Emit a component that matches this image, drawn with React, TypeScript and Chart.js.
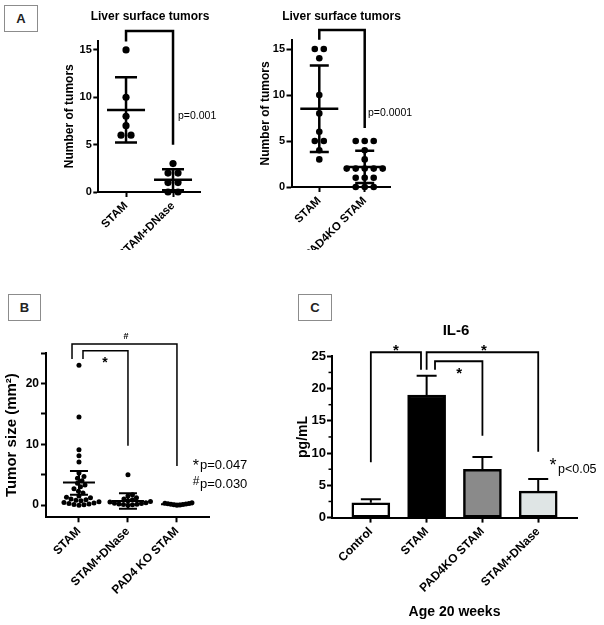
import React, { useEffect, useRef } from "react";
import { Chart, registerables } from "chart.js";
Chart.register(...registerables);

const FONT = "'Liberation Sans', Arial, Helvetica, sans-serif";

// ---------- Panel A (left): liver surface tumors ----------
const a1Categories = ["STAM", "STAM+DNase"];
const a1Stam = [15, 10, 8, 7, 6, 6];
const a1Dnase = [3, 2, 2, 1, 1, 0, 0];

// ---------- Panel A (right): liver surface tumors ----------
const a2Categories = ["STAM", "PAD4KO STAM"];
const a2Stam = [15, 15, 14, 10, 8, 6, 5, 5, 4, 3];
const a2Pad4ko = [5, 5, 5, 4, 3, 2, 2, 2, 2, 2, 1, 1, 1, 0, 0, 0];

const aTicks = [0, 5, 10, 15];
const aTickLabels = ["0", "5", "10", "15"];

// ---------- Panel B: tumor size ----------
const bCategories = ["STAM", "STAM+DNase", "PAD4 KO STAM"];
const bStam = [23.0, 14.5, 9.1, 8.1, 7.1, 5.3, 4.7, 4.4, 4.0, 3.6, 3.3, 3.0, 2.7, 2.3, 2.0, 1.5, 1.3, 1.2, 1.0, 0.9, 0.8, 0.7, 0.55, 0.45, 0.35, 0.25, 0.2, 0.1, 0.05, 0.0];
const bDnase = [5.0, 1.7, 1.5, 1.2, 1.0, 0.9, 0.7, 0.6, 0.5, 0.4, 0.3, 0.25, 0.2, 0.15, 0.1, 0.05, 0.0];
const bPad4ko = [0.0, 0.03, 0.06, 0.1, 0.14, 0.18, 0.22, 0.27, 0.32, 0.38];
const bMean = [3.7, 0.68, 0.15];
const bLower = [1.7, -0.6, 0.08];
const bUpper = [5.6, 1.95, 0.22];
const bTicks = [0, 5, 10, 15, 20, 25];
const bTickLabels = ["0", "", "10", "", "20", ""];

// ---------- Panel C: IL-6 ----------
const cCategories = ["Control", "STAM", "PAD4KO STAM", "STAM+DNase"];
const cValues = [2.3, 19.0, 7.5, 4.1];
const cErrorTop = [2.85, 22.0, 9.4, 6.0];
const cColors = ["#ffffff", "#000000", "#8a8a8a", "#dfe5e5"];
const cTicks = [0, 5, 10, 15, 20, 25];
const cTickLabels = ["0", "5", "10", "15", "20", "25"];
const cMinorTicks = [2.5, 7.5, 12.5, 17.5, 22.5];

// ---------- helpers ----------
type Geo = {
  box: { left: number; top: number; width: number; height: number };
  area: { l: number; t: number; r: number; b: number };
  x: [number, number];
  y: [number, number];
};

const mean = (v: number[]) => v.reduce((s, a) => s + a, 0) / v.length;
const sd = (v: number[]) => {
  const m = mean(v);
  return Math.sqrt(v.reduce((s, a) => s + (a - m) * (a - m), 0) / (v.length - 1));
};

function rowOffsets(vals: number[], spacing: number): number[] {
  const counts = new Map<number, number>();
  vals.forEach((v) => counts.set(v, (counts.get(v) || 0) + 1));
  const seen = new Map<number, number>();
  return vals.map((v) => {
    const k = counts.get(v)!;
    const i = seen.get(v) || 0;
    seen.set(v, i + 1);
    return (i - (k - 1) / 2) * spacing;
  });
}

function swarmOffsets(vals: number[], pxPerY: number, minDist: number): number[] {
  const idx = vals.map((_, i) => i).sort((a, b) => vals[a] - vals[b]);
  const placed: { x: number; y: number }[] = [];
  const out = new Array(vals.length).fill(0);
  for (const i of idx) {
    const y = vals[i] * pxPerY;
    let best = 0;
    for (let k = 0; k < 400; k++) {
      const cand = (k % 2 === 1 ? 1 : -1) * Math.ceil(k / 2) * 0.5;
      if (placed.every((p) => (p.x - cand) ** 2 + (p.y - y) ** 2 >= minDist * minDist)) {
        best = cand;
        break;
      }
    }
    placed.push({ x: best, y });
    out[i] = best;
  }
  return out;
}

const pxPerX = (g: Geo) => (g.area.r - g.area.l) / (g.x[1] - g.x[0]);
const pxPerY = (g: Geo) => (g.area.b - g.area.t) / (g.y[1] - g.y[0]);

function scatterPoints(vals: number[], group: number, offsetsPx: number[], g: Geo) {
  const k = pxPerX(g);
  return vals.map((v, i) => ({ x: group + offsetsPx[i] / k, y: v }));
}

type TextItem = { x: number; y: number; text: string; size: number; weight?: string; align?: CanvasTextAlign; star?: boolean };
type Bracket = { x1: number; x2: number; top: number; y1: number; y2: number };

function annotationPlugin(id: string, brackets: Bracket[], lw: number, texts: TextItem[]) {
  return {
    id,
    afterDraw(chart: any) {
      const { ctx } = chart;
      const xs = chart.scales.x;
      const ys = chart.scales.y;
      ctx.save();
      ctx.strokeStyle = "#000";
      ctx.lineWidth = lw;
      ctx.lineJoin = "miter";
      ctx.lineCap = "butt";
      brackets.forEach((b) => {
        ctx.beginPath();
        ctx.moveTo(xs.getPixelForValue(b.x1), ys.getPixelForValue(b.y1));
        ctx.lineTo(xs.getPixelForValue(b.x1), ys.getPixelForValue(b.top));
        ctx.lineTo(xs.getPixelForValue(b.x2), ys.getPixelForValue(b.top));
        ctx.lineTo(xs.getPixelForValue(b.x2), ys.getPixelForValue(b.y2));
        ctx.stroke();
      });
      ctx.fillStyle = "#000";
      ctx.textBaseline = "middle";
      texts.forEach((t) => {
        ctx.font = `${t.weight || "normal"} ${t.size}px ${FONT}`;
        ctx.textAlign = t.align || "center";
        const dy = t.star ? 0.23 * t.size : 0;
        ctx.fillText(t.text, xs.getPixelForValue(t.x), ys.getPixelForValue(t.y) + dy);
      });
      ctx.restore();
    },
  };
}

function meanSdPlugin(id: string, means: number[], lows: number[], highs: number[], meanHalf: number, capHalf: number, lw: number) {
  return {
    id,
    afterDatasetsDraw(chart: any) {
      const { ctx } = chart;
      const xs = chart.scales.x;
      const ys = chart.scales.y;
      ctx.save();
      ctx.strokeStyle = "#000";
      ctx.lineWidth = lw;
      ctx.lineCap = "butt";
      means.forEach((m, i) => {
        const px = xs.getPixelForValue(i + 1);
        const pm = ys.getPixelForValue(m);
        const pl = ys.getPixelForValue(lows[i]);
        const ph = ys.getPixelForValue(highs[i]);
        ctx.beginPath();
        ctx.moveTo(px, pl);
        ctx.lineTo(px, ph);
        ctx.moveTo(px - meanHalf, pm);
        ctx.lineTo(px + meanHalf, pm);
        ctx.moveTo(px - capHalf, pl);
        ctx.lineTo(px + capHalf, pl);
        ctx.moveTo(px - capHalf, ph);
        ctx.lineTo(px + capHalf, ph);
        ctx.stroke();
      });
      ctx.restore();
    },
  };
}

type ScaleOpts = {
  xTicks: number[];
  xLabels: string[];
  xFont: number;
  yTicks: number[];
  yLabels: string[];
  yFont: number;
  yPad: number;
  yTitle: string;
  yTitleSize: number;
  yTitleX: number;
  xTitle?: string;
  xTitleSize?: number;
  xTitleY?: number;
};

function baseOptions(g: Geo, o: ScaleOpts) {
  const xHeight = g.box.top + g.box.height - g.area.b;
  const yWidth = g.area.l - g.box.left;
  const grid = { drawOnChartArea: false, drawTicks: true, tickLength: 5, tickWidth: 2, tickColor: "#000", color: "#000", offset: false };
  const border = { display: true, color: "#000", width: 2 };
  const yLH = o.yTitleSize * 1.2;
  const xLH = (o.xTitleSize || 12) * 1.2;
  return {
    responsive: false,
    animation: false,
    devicePixelRatio: 1,
    layout: {
      autoPadding: false,
      padding: { left: 0, top: g.area.t - g.box.top, right: g.box.left + g.box.width - g.area.r, bottom: 0 },
    },
    plugins: { legend: { display: false }, tooltip: { enabled: false }, title: { display: false } },
    scales: {
      x: {
        type: "linear",
        offset: false,
        min: g.x[0],
        max: g.x[1],
        afterFit: (s: any) => {
          s.height = xHeight;
        },
        afterBuildTicks: (s: any) => {
          s.ticks = o.xTicks.map((v) => ({ value: v }));
        },
        ticks: {
          autoSkip: false,
          minRotation: 45,
          maxRotation: 45,
          padding: 2,
          color: "#000",
          font: { family: FONT, size: o.xFont, weight: "bold" },
          callback: (_v: any, i: number) => o.xLabels[i],
        },
        grid,
        border,
        title: o.xTitle
          ? {
              display: true,
              text: o.xTitle,
              color: "#000",
              font: { family: FONT, size: o.xTitleSize, weight: "bold" },
              padding: { top: 0, bottom: g.box.height - (o.xTitleY! - g.box.top) - xLH / 2 },
            }
          : { display: false },
      },
      y: {
        type: "linear",
        offset: false,
        min: g.y[0],
        max: g.y[1],
        afterFit: (s: any) => {
          s.width = yWidth;
        },
        afterBuildTicks: (s: any) => {
          s.ticks = o.yTicks.map((v) => ({ value: v }));
        },
        ticks: {
          padding: o.yPad,
          color: "#000",
          font: { family: FONT, size: o.yFont, weight: "bold" },
          callback: (_v: any, i: number) => o.yLabels[i],
        },
        grid,
        border,
        title: {
          display: true,
          text: o.yTitle,
          color: "#000",
          font: { family: FONT, size: o.yTitleSize, weight: "bold" },
          padding: { top: o.yTitleX - g.box.left - yLH / 2, bottom: 0 },
        },
      },
    },
  };
}

// ---------- geometry ----------
const geoA1: Geo = { box: { left: 40, top: 0, width: 215, height: 250 }, area: { l: 98.3, t: 40.5, r: 200, b: 192 }, x: [0.41, 2.574], y: [0, 16] };
const geoA2: Geo = { box: { left: 232, top: 0, width: 200, height: 250 }, area: { l: 291.5, t: 39.8, r: 390, b: 187 }, x: [0.388, 2.557], y: [0, 16] };
const geoB: Geo = { box: { left: 0, top: 325, width: 280, height: 300 }, area: { l: 46, t: 353, r: 209, b: 517.3 }, x: [0.327, 3.654], y: [-2, 25] };
const geoC: Geo = { box: { left: 290, top: 325, width: 314, height: 300 }, area: { l: 332, t: 356.3, r: 577, b: 517.6 }, x: [0.304, 4.695], y: [0, 25] };

// ---------- configs ----------
function configA(g: Geo, cats: string[], g1: number[], g2: number[], spacing: number, radius: number, meanHalf: number, capHalf: number, texts: TextItem[], bracket: Bracket, yTitleX: number, id: string) {
  const opts: any = baseOptions(g, {
    xTicks: [1, 2], xLabels: cats, xFont: 11.5,
    yTicks: aTicks, yLabels: aTickLabels, yFont: 11, yPad: 1.5,
    yTitle: "Number of tumors", yTitleSize: 12, yTitleX,
  });
  const groups = [g1, g2];
  return {
    type: "scatter",
    data: {
      datasets: groups.map((vals, gi) => ({
        data: scatterPoints(vals, gi + 1, rowOffsets(vals, spacing), g),
        pointRadius: radius,
        pointBackgroundColor: "#000",
        pointBorderWidth: 0,
        clip: false,
      })),
    },
    options: opts,
    plugins: [
      meanSdPlugin(id + "sd", groups.map(mean), groups.map((v) => mean(v) - sd(v)), groups.map((v) => mean(v) + sd(v)), meanHalf, capHalf, 2.5),
      annotationPlugin(id + "ann", [bracket], 2.5, texts),
    ],
  };
}

function configB() {
  const g = geoB;
  const opts: any = baseOptions(g, {
    xTicks: [1, 2, 3], xLabels: bCategories, xFont: 12,
    yTicks: bTicks, yLabels: bTickLabels, yFont: 12, yPad: 2,
    yTitle: "Tumor size (mm²)", yTitleSize: 15, yTitleX: 12,
  });
  const groups = [bStam, bDnase, bPad4ko];
  const gaps = [4.7, 4.2, 3.0];
  const ky = pxPerY(g);
  return {
    type: "scatter",
    data: {
      datasets: groups.map((vals, gi) => ({
        data: scatterPoints(vals, gi + 1, swarmOffsets(vals, ky, gaps[gi]), g),
        pointRadius: 2.5,
        pointBackgroundColor: "#000",
        pointBorderWidth: 0,
        clip: false,
      })),
    },
    options: opts,
    plugins: [
      meanSdPlugin("bsd", bMean, bLower, bUpper, 16, 9, 2),
      annotationPlugin(
        "bann",
        [
          { x1: 0.858, x2: 3.0, top: 26.48, y1: 24.0, y2: 6.43 },
          { x1: 1.082, x2: 2.0, top: 25.38, y1: 24.0, y2: 9.77 },
        ],
        1.5,
        [
          { x: 1.96, y: 27.63, text: "#", size: 9, weight: "bold" },
          { x: 1.531, y: 23.85, text: "*", size: 14, weight: "bold", star: true },
          { x: 3.388, y: 6.92, text: "*", size: 16, star: true },
          { x: 3.47, y: 6.6, text: "p=0.047", size: 13, align: "left" },
          { x: 3.388, y: 3.8, text: "#", size: 12 },
          { x: 3.47, y: 3.42, text: "p=0.030", size: 13, align: "left" },
        ]
      ),
    ],
  };
}

function configC() {
  const g = geoC;
  const opts: any = baseOptions(g, {
    xTicks: [1, 2, 3, 4], xLabels: cCategories, xFont: 12,
    yTicks: cTicks, yLabels: cTickLabels, yFont: 13, yPad: 1,
    yTitle: "pg/mL", yTitleSize: 14, yTitleX: 303,
    xTitle: "Age 20 weeks", xTitleSize: 14, xTitleY: 611.7,
  });
  return {
    type: "bar",
    data: {
      datasets: [
        {
          data: cValues.map((v, i) => ({ x: i + 1, y: v })),
          backgroundColor: cColors,
          borderColor: "#000",
          borderWidth: 2.5,
          borderSkipped: false,
          barThickness: 38,
          grouped: false,
          clip: false,
        },
      ],
    },
    options: opts,
    plugins: [
      {
        id: "cerr",
        afterDatasetsDraw(chart: any) {
          const { ctx } = chart;
          const xs = chart.scales.x;
          const ys = chart.scales.y;
          ctx.save();
          ctx.strokeStyle = "#000";
          ctx.lineWidth = 2;
          cValues.forEach((v, i) => {
            const px = xs.getPixelForValue(i + 1);
            const p0 = ys.getPixelForValue(v);
            const p1 = ys.getPixelForValue(cErrorTop[i]);
            ctx.beginPath();
            ctx.moveTo(px, p0);
            ctx.lineTo(px, p1);
            ctx.moveTo(px - 10, p1);
            ctx.lineTo(px + 10, p1);
            ctx.stroke();
          });
          ctx.lineWidth = 1.5;
          const left = chart.chartArea.left;
          cMinorTicks.forEach((v) => {
            const py = ys.getPixelForValue(v);
            ctx.beginPath();
            ctx.moveTo(left - 3.5, py);
            ctx.lineTo(left, py);
            ctx.stroke();
          });
          ctx.restore();
        },
      },
      annotationPlugin(
        "cann",
        [
          { x1: 1.0, x2: 1.899, top: 25.63, y1: 8.57, y2: 22.93 },
          { x1: 2.0, x2: 4.0, top: 25.63, y1: 22.93, y2: 10.2 },
          { x1: 2.15, x2: 3.0, top: 24.23, y1: 22.93, y2: 12.7 },
        ],
        1.8,
        [
          { x: 2.526, y: 28.93, text: "IL-6", size: 15, weight: "bold" },
          { x: 1.451, y: 26.45, text: "*", size: 15, weight: "bold", star: true },
          { x: 3.028, y: 26.45, text: "*", size: 15, weight: "bold", star: true },
          { x: 2.585, y: 22.84, text: "*", size: 15, weight: "bold", star: true },
          { x: 4.265, y: 8.67, text: "*", size: 18, star: true },
          { x: 4.354, y: 7.38, text: "p<0.05", size: 12.5, align: "left" },
        ]
      ),
    ],
  };
}

function ChartCanvas({ geo, build }: { geo: Geo; build: () => any }) {
  const ref = useRef<HTMLCanvasElement>(null);
  useEffect(() => {
    const chart = new Chart(ref.current as HTMLCanvasElement, build());
    return () => chart.destroy();
  }, []);
  return (
    <canvas
      ref={ref}
      width={geo.box.width}
      height={geo.box.height}
      style={{ position: "absolute", left: geo.box.left, top: geo.box.top, width: geo.box.width, height: geo.box.height }}
    />
  );
}

function Letter({ text, left, top, width, height }: { text: string; left: number; top: number; width: number; height: number }) {
  return (
    <div
      style={{
        position: "absolute",
        left,
        top,
        width,
        height,
        boxSizing: "border-box",
        border: "1px solid #8c8c8c",
        display: "flex",
        alignItems: "center",
        justifyContent: "center",
        fontFamily: FONT,
        fontWeight: "bold",
        fontSize: 13,
        color: "#222",
      }}
    >
      {text}
    </div>
  );
}

export default function App() {
  return (
    <div style={{ position: "fixed", left: 0, top: 0, width: 604, height: 625, background: "#fff", overflow: "hidden" }}>
      <ChartCanvas
        geo={geoA1}
        build={() =>
          configA(geoA1, a1Categories, a1Stam, a1Dnase, 10, 3.6, 19, 11,
            [
              { x: 1.51, y: 18.49, text: "Liver surface tumors", size: 12, weight: "bold" },
              { x: 2.106, y: 8.03, text: "p=0.001", size: 10.5, align: "left" },
            ],
            { x1: 1, x2: 2, top: 17.0, y1: 15.9, y2: 5.0 }, 70, "a1")
        }
      />
      <ChartCanvas
        geo={geoA2}
        build={() =>
          configA(geoA2, a2Categories, a2Stam, a2Pad4ko, 9, 3.3, 19, 9.5,
            [
              { x: 1.489, y: 18.48, text: "Liver surface tumors", size: 12, weight: "bold" },
              { x: 2.072, y: 8.04, text: "p=0.0001", size: 10.5, align: "left" },
            ],
            { x1: 1, x2: 2, top: 17.07, y1: 16.0, y2: 6.4 }, 266, "a2")
        }
      />
      <ChartCanvas geo={geoB} build={configB} />
      <ChartCanvas geo={geoC} build={configC} />
      <Letter text="A" left={4} top={5} width={34} height={27} />
      <Letter text="B" left={8} top={294} width={33} height={27} />
      <Letter text="C" left={298} top={294} width={34} height={27} />
    </div>
  );
}
